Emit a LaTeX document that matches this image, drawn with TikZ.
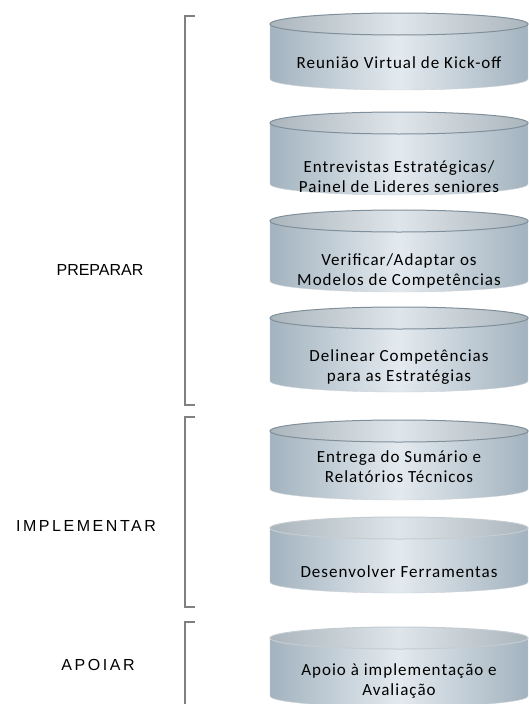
\documentclass[tikz,border=0pt]{standalone}
\usepackage{fontspec}
\usepackage{xcolor}
\usepackage{tikz}
\usetikzlibrary{calc, positioning}

\newfontfamily\cylfont{Carlito}[LetterSpace=6]
\newfontfamily\phasefont{Liberation Sans}
\newfontfamily\phasewidefont{Liberation Sans}[LetterSpace=16]

\definecolor{cylEdge}{HTML}{A3B3BF}
\definecolor{cylMid}{HTML}{E3EAEF}
\definecolor{cylTop}{HTML}{C9D5DD}
\definecolor{cylLine}{HTML}{7F8F9B}
\definecolor{braceGray}{HTML}{808080}

\begin{document}
\begin{tikzpicture}[x=1pt, y=-1pt,
    cyltext/.style={font=\cylfont\fontsize{17}{20}\selectfont, align=center, text=black},
    phase/.style={font=\phasefont\fontsize{16}{19}\selectfont, text=black},
    phasewide/.style={font=\phasewidefont\fontsize{16}{19}\selectfont, text=black},
    brace/.style={draw=braceGray, line width=1.5pt}]
    % 1. Khung hình
    \useasboundingbox (0,0) rectangle (529,704);
    \fill[white] (0,0) rectangle (529,704);
    \clip (0,0) rectangle (529,704);

    % 2. Các hình trụ
    \foreach \t/\b/\rim in {13/90/cylLine, 112/195/cylLine, 210/292/cylLine,
                            307/392/cylLine, 420/500/cylLine,
                            517/593/cylLine!45, 627/707/cylLine!45} {
        \shade[left color=cylEdge, right color=cylEdge, middle color=cylMid]
            (270,{\t+11}) -- (270,{\b-11})
            arc[start angle=180, end angle=0, x radius=129, y radius=11]
            -- (528,{\t+11}) -- cycle;
        \draw[cylLine!40, thin] (270,{\t+11}) -- (270,{\b-11})
            arc[start angle=180, end angle=0, x radius=129, y radius=11]
            -- (528,{\t+11});
        \shade[left color=cylTop!85!black, right color=cylTop!85!black, middle color=cylTop!60!white]
            (399,{\t+11}) ellipse[x radius=129, y radius=11];
        \draw[\rim, line width=1pt] (399,{\t+11}) ellipse[x radius=129, y radius=11];
    }

    % 3. Chữ trong các hình trụ
    \foreach \ty/\name/\txt in {63/kickoff/{Reunião Virtual de Kick-off},
        177/entrevistas/{Entrevistas Estratégicas/\\Painel de Lideres seniores},
        271/verificar/{Verificar/Adaptar os\\Modelos de Competências},
        367/delinear/{Delinear Competências\\para as Estratégias},
        467/entrega/{Entrega do Sumário e\\Relatórios Técnicos},
        572/ferramentas/{Desenvolver Ferramentas},
        681/apoio/{Apoio à implementação e\\Avaliação}} {
        \node[cyltext] (\name) at (399,\ty) {\txt};
    }

    % 4. Các ngoặc vuông
    \draw[brace] (195,16) -- (185,16) -- (185,405) -- (195,405);
    \draw[brace] (195,417) -- (185,417) -- (185,607) -- (195,607);
    \draw[brace] (195,622) -- (185,622) -- (185,720);

    % 5. Tên các giai đoạn
    \node[phase] (preparar) at (100,270) {PREPARAR};
    \node[phasewide] (implementar) at (86,526) {IMPLEMENTAR};
    \node[phasewide] (apoiar) at (98,665) {APOIAR};
\end{tikzpicture}
\end{document}
